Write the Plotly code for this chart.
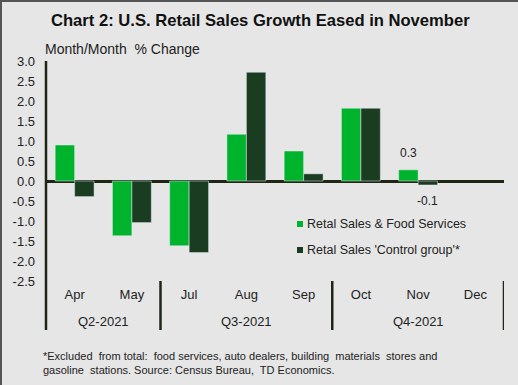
import plotly.graph_objects as go

months = ["Apr", "May", "Jul", "Aug", "Sep", "Oct", "Nov", "Dec"]
quarters = ["Q2-2021", "Q3-2021", "Q4-2021"]
quarter_spans = [(0, 1), (2, 4), (5, 7)]
retail_food = [0.9, -1.37, -1.62, 1.17, 0.75, 1.82, 0.28, None]
control_group = [-0.39, -1.04, -1.79, 2.72, 0.18, 1.82, -0.1, None]
labels_retail = ["", "", "", "", "", "", "0.3", ""]
labels_control = ["", "", "", "", "", "", "-0.1", ""]
series_names = ["Retal Sales & Food Services", "Retal Sales 'Control group'*"]

GREEN = "#00B32C"
DARK = "#1A3D22"
AXIS = "#1E2616"
BG = "#E6E6E6"
FONT = "Liberation Sans, Arial, sans-serif"

L, R, T, B = 46, 14, 61, 104
W, H = 518, 385
pw, ph = W - L - R, H - T - B
BARGAP = 0.32


def px(x):
    return (x - L) / pw


def py(y):
    return (H - B - y) / ph


xs = list(range(len(months)))

fig = go.Figure()
fig.add_trace(go.Bar(x=xs, y=retail_food, name=series_names[0], marker_color=GREEN))
fig.add_trace(go.Bar(x=xs, y=control_group, name=series_names[1], marker_color=DARK))

shapes = []
shapes.append(dict(type="line", xref="paper", yref="paper", x0=0, x1=0, y0=1, y1=py(330),
                   line=dict(color=AXIS, width=2.5)))
for (a, b) in quarter_spans:
    shapes.append(dict(type="line", xref="x", yref="paper", x0=b + 0.5, x1=b + 0.5,
                       y0=0, y1=py(330), line=dict(color=AXIS, width=2.5)))

annotations = []
# data labels derived from the series
bar_w = pw / len(months) * (1 - BARGAP) / 2
for vals, labs, sign in [(retail_food, labels_retail, -1), (control_group, labels_control, 1)]:
    for i, (v, t) in enumerate(zip(vals, labs)):
        if t and v is not None:
            annotations.append(dict(x=i, y=v, xref="x", yref="y", text=t, showarrow=False,
                                    xshift=sign * bar_w / 2,
                                    yanchor="bottom" if v >= 0 else "top",
                                    yshift=8 if v >= 0 else -7,
                                    font=dict(size=12, color="#222", family=FONT)))
for q, (a, b) in zip(quarters, quarter_spans):
    annotations.append(dict(x=(a + b) / 2, y=py(321), xref="x", yref="paper", text=q,
                            showarrow=False, font=dict(size=13, color="#222", family=FONT),
                            yanchor="middle"))
annotations.append(dict(x=px(260), y=py(20), xref="paper", yref="paper",
                        text="<b>Chart 2: U.S. Retail Sales Growth Eased in November</b>",
                        showarrow=False, xanchor="center", yanchor="middle",
                        font=dict(size=16.6, color="#111", family=FONT)))
annotations.append(dict(x=px(43), y=py(49), xref="paper", yref="paper", text="Month/Month  % Change",
                        showarrow=False, xanchor="left", yanchor="middle",
                        font=dict(size=14, color="#222", family=FONT)))
annotations.append(dict(x=px(41), y=py(363), xref="paper", yref="paper",
                        text="*Excluded  from total:  food services, auto dealers, building  materials  stores and<br>gasoline  stations. Source: Census Bureau,  TD Economics.",
                        showarrow=False, xanchor="left", yanchor="middle", align="left",
                        font=dict(size=11, color="#222", family=FONT)))

# custom legend
for i, (nm, col) in enumerate(zip(series_names, [GREEN, DARK])):
    yc = 224 + 26 * i
    shapes.append(dict(type="rect", xref="paper", yref="paper", x0=px(297), x1=px(303),
                       y0=py(yc - 3), y1=py(yc + 3), fillcolor=col, line=dict(width=0)))
    annotations.append(dict(x=px(305), y=py(yc), xref="paper", yref="paper", text=nm,
                            showarrow=False, xanchor="left", yanchor="middle",
                            font=dict(size=12.5, color="#222", family=FONT)))

# border top/left
shapes.append(dict(type="line", xref="paper", yref="paper", x0=px(0), x1=px(W),
                   y0=py(1), y1=py(1), line=dict(color="#555", width=2)))
shapes.append(dict(type="line", xref="paper", yref="paper", x0=px(1), x1=px(1),
                   y0=py(0), y1=py(H), line=dict(color="#555", width=2)))

fig.update_layout(
    width=W, height=H,
    margin=dict(l=L, r=R, t=T, b=B),
    paper_bgcolor=BG, plot_bgcolor=BG,
    font=dict(family=FONT, size=13, color="#222"),
    barmode="group", bargap=BARGAP, bargroupgap=0,
    showlegend=False,
    shapes=shapes, annotations=annotations,
    xaxis=dict(tickmode="array", tickvals=xs, ticktext=months, range=[-0.5, 7.5],
               showgrid=False, showline=False, zeroline=False, ticks="",
               ticklabelstandoff=4, tickfont=dict(size=13)),
    yaxis=dict(range=[-2.5, 3.0], tickmode="array",
               tickvals=[-2.5, -2.0, -1.5, -1.0, -0.5, 0, 0.5, 1.0, 1.5, 2.0, 2.5, 3.0],
               ticktext=["-2.5", "-2.0", "-1.5", "-1.0", "-0.5", "0.0", "0.5", "1.0", "1.5", "2.0", "2.5", "3.0"],
               showgrid=False, showline=False, zeroline=True, zerolinecolor=AXIS, zerolinewidth=2.5,
               ticks="", ticklabelstandoff=10, tickfont=dict(size=13)),
)

fig.write_html("out.html", config={"displayModeBar": False},
               post_script="document.body.style.margin='0';document.body.style.padding='0';")
